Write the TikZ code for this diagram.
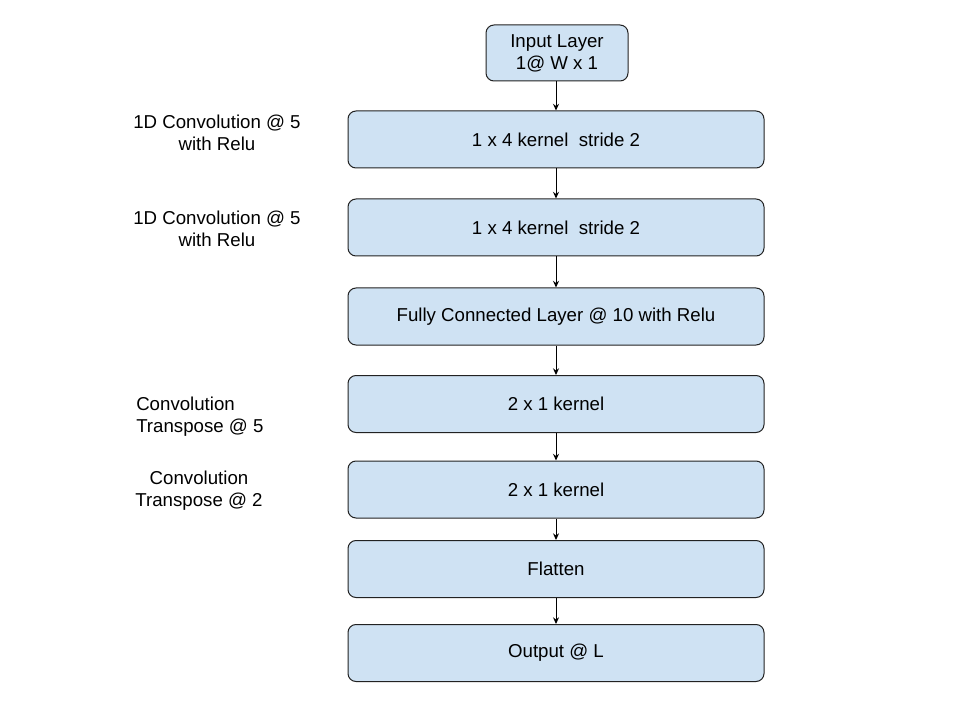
\documentclass[tikz,border=0pt]{standalone}
\usepackage{fontspec}
\setmainfont{Liberation Sans}
\usetikzlibrary{arrows.meta}
\definecolor{boxfill}{HTML}{CFE2F3}
\definecolor{boxline}{HTML}{222222}
\tikzset{
  layerbox/.style={draw=boxline, fill=boxfill, rounded corners=6pt, line width=0.75pt,
    minimum width=312pt, minimum height=42.75pt, inner sep=0pt, align=center,
    font=\fontsize{14}{16.5}\selectfont},
  sidelabel/.style={inner sep=0pt, font=\fontsize{14}{16.5}\selectfont},
  flow/.style={draw=black, line width=0.75pt, -{Stealth[length=5pt,width=4.5pt]}}
}
\begin{document}
\begin{tikzpicture}[x=0.75pt,y=-0.75pt]
\useasboundingbox (0,0) rectangle (960,720);
\node[layerbox, minimum width=106.5pt, minimum height=42pt] (in) at (557,53) {Input Layer\\1@ W x 1};
\node[layerbox] (c1) at (556,139.5) {1 x 4 kernel\ \ stride 2};
\node[layerbox] (c2) at (556,227.5) {1 x 4 kernel\ \ stride 2};
\node[layerbox] (fc) at (556,316.5) {Fully Connected Layer @ 10 with Relu};
\node[layerbox] (t1) at (556,404) {2 x 1 kernel};
\node[layerbox] (t2) at (556,489.5) {2 x 1 kernel};
\node[layerbox] (fl) at (556,569) {Flatten};
\node[layerbox] (out) at (556,653) {Output @ L};
\draw[flow] (in.south -| c1.north) -- (c1.north);
\draw[flow] (c1) -- (c2);
\draw[flow] (c2) -- (fc);
\draw[flow] (fc) -- (t1);
\draw[flow] (t1) -- (t2);
\draw[flow] (t2) -- (fl);
\draw[flow] (fl) -- (out);
\node[sidelabel, align=center] (l1) at (217,133) {1D Convolution @ 5\\with Relu};
\node[sidelabel, align=center] (l2) at (217,229) {1D Convolution @ 5\\with Relu};
\node[sidelabel, align=left, anchor=west] (l3) at (136,417) {Convolution\\Transpose @ 5};
\node[sidelabel, align=center] (l4) at (199,491) {Convolution\\Transpose @ 2};
\end{tikzpicture}
\end{document}
